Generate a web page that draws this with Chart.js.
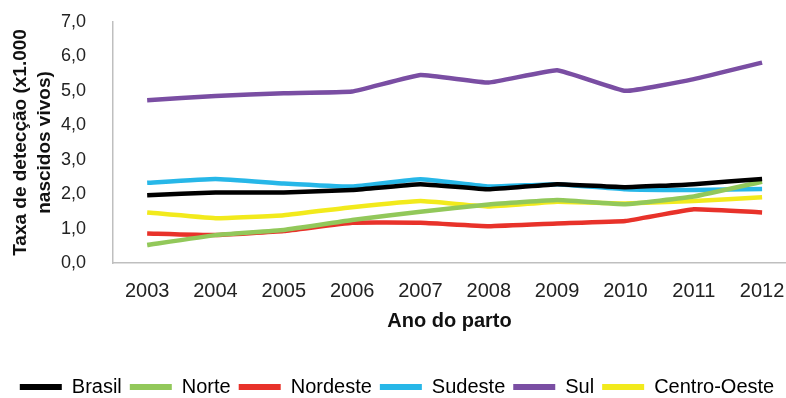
<!DOCTYPE html>
<html>
<head>
<meta charset="utf-8">
<script src="https://cdn.jsdelivr.net/npm/chart.js@4"></script>
<style>
  html, body { margin: 0; padding: 0; background: #fff; overflow: hidden; }
  #wrap { width: 786px; height: 398px; }
</style>
</head>
<body>
<div id="wrap"><canvas id="chart"></canvas></div>
<script>
// anos (eixo x)
const years = [2003, 2004, 2005, 2006, 2007, 2008, 2009, 2010, 2011, 2012];

// taxa de detecção por 1.000 nascidos vivos
const brasil      = [1.97, 2.05, 2.05, 2.12, 2.29, 2.14, 2.29, 2.20, 2.29, 2.44];
const norte       = [0.52, 0.81, 0.96, 1.25, 1.49, 1.70, 1.83, 1.71, 1.93, 2.36];
const nordeste    = [0.86, 0.81, 0.93, 1.17, 1.17, 1.07, 1.15, 1.22, 1.56, 1.47];
const sudeste     = [2.33, 2.44, 2.31, 2.22, 2.43, 2.22, 2.29, 2.14, 2.12, 2.15];
const sul         = [4.73, 4.85, 4.93, 4.98, 5.46, 5.24, 5.60, 5.00, 5.34, 5.82];
const centroOeste = [1.47, 1.30, 1.39, 1.62, 1.80, 1.64, 1.78, 1.73, 1.80, 1.91];

const seriesNames = ["Brasil", "Norte", "Nordeste", "Sudeste", "Sul", "Centro-Oeste"];
const seriesData = [brasil, norte, nordeste, sudeste, sul, centroOeste];
const colors = ["#000000", "#92c85a", "#e8322a", "#27b7e8", "#7a4ea3", "#f2ea1c"];

function toPoints(arr) {
  return arr.map((v, i) => ({ x: years[i], y: v }));
}

const datasets = seriesNames.map((name, i) => ({
  label: name,
  data: toPoints(seriesData[i]),
  borderColor: colors[i],
  backgroundColor: colors[i],
  borderWidth: 4.5,
  pointRadius: 0,
  tension: 0.1,
  fill: false
}));

// empurra a legenda um pouco para baixo, como no original
const legendNudge = {
  id: "legendNudge",
  afterLayout(chart) {
    if (chart.legend) chart.legend.top += 9;
  }
};

const ctx = document.getElementById("chart");
new Chart(ctx, {
  type: "line",
  data: { datasets: datasets },
  plugins: [legendNudge],
  options: {
    responsive: true,
    maintainAspectRatio: false,
    animation: false,
    layout: { padding: { top: 22, right: 0, left: 8, bottom: 0 } },
    plugins: {
      tooltip: { enabled: false },
      legend: {
        position: "bottom",
        labels: {
          boxWidth: 42,
          boxHeight: 6,
          padding: 8,
          color: "#000",
          font: { family: "'Liberation Sans', Arial", size: 20 },
          generateLabels: (chart) => {
            const items = Chart.defaults.plugins.legend.labels.generateLabels(chart);
            items.forEach(it => { it.lineWidth = 0; });
            return items;
          }
        }
      }
    },
    scales: {
      x: {
        type: "linear",
        min: 2002.5,
        max: 2012.35,
        grid: { display: false, drawTicks: false },
        border: { display: true, color: "#bfbfbf", width: 1.5 },
        afterBuildTicks: (axis) => {
          axis.ticks = years.map(y => ({ value: y }));
        },
        afterFit: (axis) => {
          axis.height = 97;
          axis.paddingLeft = 0;
          axis.paddingRight = 0;
        },
        ticks: {
          padding: 18,
          color: "#222",
          font: { family: "'Liberation Sans', Arial", size: 20, lineHeight: 1 },
          callback: (v) => String(v)
        },
        title: {
          display: true,
          text: "Ano do parto",
          color: "#111",
          padding: { top: 0, bottom: 29 },
          font: { family: "'Liberation Sans', Arial", size: 20, weight: "bold", lineHeight: 1 }
        }
      },
      y: {
        min: 0,
        max: 7,
        grid: { display: false, drawTicks: false },
        border: { display: true, color: "#bfbfbf", width: 1.5 },
        afterFit: (axis) => {
          axis.width = 105;
          axis.paddingTop = 0;
          axis.paddingBottom = 0;
        },
        ticks: {
          stepSize: 1,
          padding: 27,
          color: "#222",
          font: { family: "'Liberation Sans', Arial", size: 18, lineHeight: 1 },
          callback: (v) => v.toFixed(1).replace(".", ",")
        },
        title: {
          display: true,
          text: ["Taxa de detecção (x1.000", "nascidos vivos)"],
          color: "#111",
          padding: { top: 0, bottom: 4 },
          font: { family: "'Liberation Sans', Arial", size: 19, weight: "bold", lineHeight: 1.3 }
        }
      }
    }
  }
});
</script>
</body>
</html>
